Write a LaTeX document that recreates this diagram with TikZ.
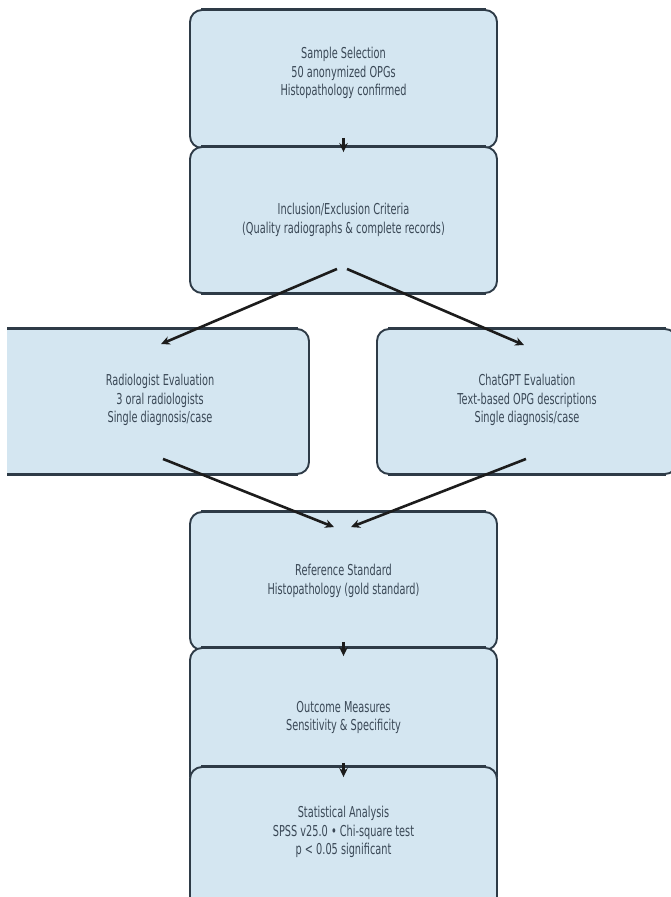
\documentclass[tikz,border=0pt]{standalone}
\usepackage{fontspec}
\setmainfont[FakeStretch=0.65]{DejaVu Sans}
\usetikzlibrary{arrows.meta}
\definecolor{boxfill}{HTML}{D4E6F1}
\definecolor{boxline}{HTML}{2E3B47}
\definecolor{txt}{HTML}{3A4856}
\definecolor{arrowc}{HTML}{1C1C1C}
\begin{document}
\begin{tikzpicture}[x=1pt,y=-1pt,
  flowbox/.style={rectangle, rounded corners=12pt, draw=boxline, fill=boxfill, line width=1.9pt, inner sep=0pt},
  hedge/.style={draw=boxline, line width=3pt},
  flowtext/.style={align=center, text=txt, inner sep=0pt, font=\fontsize{15}{18.5}\selectfont},
  flowarrow/.style={draw=arrowc, line width=2.6pt, -{Stealth[length=9pt,width=8.5pt]}}
]
\useasboundingbox (0,0) rectangle (671,897);
\begin{scope}
\clip (7,-5) rectangle (680,900);
% Sample selection
\node[flowbox, minimum width=307pt, minimum height=138pt] (b1) at (343.5,79) {};
\draw[hedge] ([xshift=12pt]b1.north west) -- ([xshift=-12pt]b1.north east);
\node[flowtext] (t1) at (343.5,73) {Sample Selection\\50 anonymized OPGs\\Histopathology confirmed};
% Inclusion
\node[flowbox, minimum width=307pt, minimum height=146pt] (b2) at (343.5,220) {};
\draw[hedge] ([xshift=12pt]b2.north west) -- ([xshift=-12pt]b2.north east);
\draw[hedge] ([xshift=12pt]b2.south west) -- ([xshift=-12pt]b2.south east);
\node[flowtext] (t2) at (343.5,220) {Inclusion/Exclusion Criteria\\(Quality radiographs \& complete records)};
% Radiologist
\node[flowbox, minimum width=319pt, minimum height=145pt] (bl) at (149.5,401.5) {};
\draw[hedge] ([xshift=12pt]bl.north west) -- ([xshift=-12pt]bl.north east);
\draw[hedge] ([xshift=12pt]bl.south west) -- ([xshift=-12pt]bl.south east);
\node[flowtext] (tl) at (160,400) {Radiologist Evaluation\\3 oral radiologists\\Single diagnosis/case};
% ChatGPT
\node[flowbox, minimum width=300pt, minimum height=145pt] (br) at (527,401.5) {};
\draw[hedge] ([xshift=12pt]br.north west) -- ([xshift=-12pt]br.north east);
\draw[hedge] ([xshift=12pt]br.south west) -- ([xshift=-12pt]br.south east);
\node[flowtext] (tr) at (527,400) {ChatGPT Evaluation\\Text-based OPG descriptions\\Single diagnosis/case};
% Reference
\node[flowbox, minimum width=307pt, minimum height=138pt] (b3) at (343.5,581) {};
\draw[hedge] ([xshift=12pt]b3.north west) -- ([xshift=-12pt]b3.north east);
\node[flowtext] (t3) at (343.5,581) {Reference Standard\\Histopathology (gold standard)};
% Outcome
\node[flowbox, minimum width=307pt, minimum height=140pt] (b4) at (343.5,718) {};
\draw[hedge] ([xshift=12pt]b4.north west) -- ([xshift=-12pt]b4.north east);
\node[flowtext] (t4) at (343.5,717.5) {Outcome Measures\\Sensitivity \& Specificity};
% Statistical
\node[flowbox, minimum width=307pt, minimum height=150pt] (b5) at (343.5,842) {};
\draw[hedge] ([xshift=12pt]b5.north west) -- ([xshift=-12pt]b5.north east);
\node[flowtext] (t5) at (343.5,832) {Statistical Analysis\\SPSS v25.0 • Chi-square test\\p < 0.05 significant};
% arrows
\draw[flowarrow] ([yshift=11pt]b1.south) -- ([yshift=-6pt]b2.north);
\draw[flowarrow] ([shift={(-6.5pt,25pt)}]b2.south) -- ([shift={(11.5pt,-16pt)}]bl.north);
\draw[flowarrow] ([shift={(3.5pt,25pt)}]b2.south) -- ([shift={(-3pt,-17pt)}]br.north);
\draw[flowarrow] ([shift={(13.5pt,16pt)}]bl.south) -- ([shift={(-9.5pt,-16pt)}]b3.north);
\draw[flowarrow] ([shift={(-1pt,16pt)}]br.south) -- ([shift={(7.5pt,-16pt)}]b3.north);
\draw[flowarrow] ([yshift=9pt]b3.south) -- ([yshift=-9pt]b4.north);
\draw[flowarrow] ([yshift=26pt]b4.south) -- ([yshift=-11pt]b5.north);
\end{scope}
\end{tikzpicture}
\end{document}
